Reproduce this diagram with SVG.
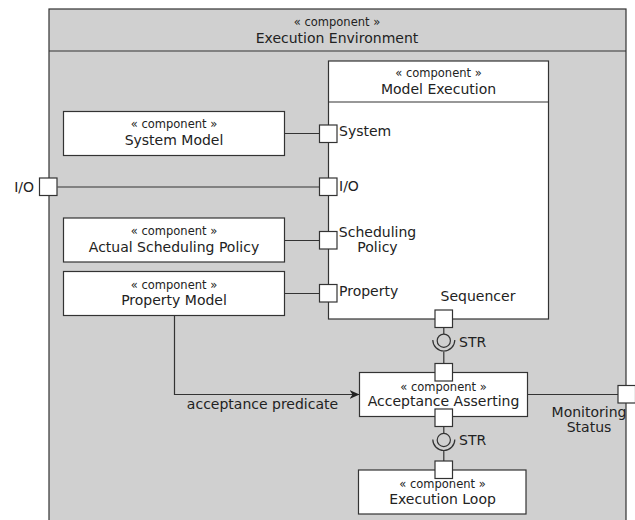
<svg xmlns="http://www.w3.org/2000/svg" width="635" height="520" viewBox="0 0 635 520">
  <style>
    .box { fill: #ffffff; stroke: #333333; stroke-width: 1.2; }
    .env { fill: #d0d0d0; stroke: #333333; stroke-width: 1.2; }
    .port { fill: #ffffff; stroke: #333333; stroke-width: 1.2; }
    .wire { fill: none; stroke: #333333; stroke-width: 1.2; }
    .st { font-family: "DejaVu Sans", sans-serif; font-size: 11.5px; fill: #222222; text-anchor: middle; }
    .nm { font-family: "DejaVu Sans", sans-serif; font-size: 14px; fill: #222222; text-anchor: middle; }
    .lbl { font-family: "DejaVu Sans", sans-serif; font-size: 14px; fill: #222222; }
  </style>
  <defs>
    <marker id="arrow" markerWidth="11" markerHeight="10" refX="10" refY="4.5" orient="auto" markerUnits="userSpaceOnUse">
      <path d="M0,0 L10,4.5 L0,9 L3,4.5 z" fill="#222222"/>
    </marker>
  </defs>

  <!-- enclosing component -->
  <g id="execution-environment">
    <rect class="env" x="49" y="9" width="577" height="530"/>
    <line class="wire" x1="49" y1="51" x2="626" y2="51"/>
    <text class="st" x="337" y="26">« component »</text>
    <text class="nm" x="337" y="43">Execution Environment</text>
  </g>

  <!-- connectors -->
  <g id="connectors">
    <line class="wire" x1="284.5" y1="133.5" x2="319.5" y2="133.5"/>
    <line class="wire" x1="57.5" y1="187" x2="319.5" y2="187"/>
    <line class="wire" x1="284.5" y1="240.5" x2="319.5" y2="240.5"/>
    <line class="wire" x1="284.5" y1="293.5" x2="319.5" y2="293.5"/>
    <polyline class="wire" points="174.5,315.5 174.5,394.5 359.5,394.5" marker-end="url(#arrow)"/>
    <line class="wire" x1="527.5" y1="394.5" x2="618" y2="394.5"/>
    <!-- STR interface between Sequencer and Acceptance Asserting -->
    <line class="wire" x1="443.8" y1="327.5" x2="443.8" y2="334"/>
    <circle class="wire" cx="443.8" cy="340.7" r="6.6"/>
    <path class="wire" d="M432.8,340 A11,11 0 0 0 454.8,340"/>
    <line class="wire" x1="443.8" y1="351.5" x2="443.8" y2="363.5"/>
    <!-- STR interface between Acceptance Asserting and Execution Loop -->
    <line class="wire" x1="443.8" y1="427" x2="443.8" y2="433.4"/>
    <circle class="wire" cx="443.8" cy="440" r="6.6"/>
    <path class="wire" d="M432.8,439.5 A11,11 0 0 0 454.8,439.5"/>
    <line class="wire" x1="443.8" y1="451" x2="443.8" y2="461"/>
    <text class="lbl" x="262.5" y="409" text-anchor="middle">acceptance predicate</text>
    <text class="lbl" x="459" y="347">STR</text>
    <text class="lbl" x="459" y="445">STR</text>
  </g>

  <!-- boundary port I/O -->
  <g id="port-io-env">
    <rect class="port" x="39.5" y="178" width="17.5" height="17.5"/>
    <text class="lbl" x="34" y="192" text-anchor="end">I/O</text>
  </g>

  <!-- boundary port Monitoring Status -->
  <g id="port-monitoring">
    <rect class="port" x="618" y="385.5" width="17.5" height="17.5"/>
    <text class="lbl" x="589" y="416.5" text-anchor="middle">Monitoring</text>
    <text class="lbl" x="589" y="431.5" text-anchor="middle">Status</text>
  </g>

  <g id="model-execution">
    <rect class="box" x="328.5" y="61" width="220" height="258"/>
    <line class="wire" x1="328.5" y1="102" x2="548.5" y2="102"/>
    <text class="st" x="438.5" y="77">« component »</text>
    <text class="nm" x="438.5" y="94">Model Execution</text>
    <rect class="port" x="319.5" y="125" width="17.5" height="17.5"/>
    <text class="lbl" x="339" y="136">System</text>
    <rect class="port" x="319.5" y="178" width="17.5" height="17.5"/>
    <text class="lbl" x="339" y="191">I/O</text>
    <rect class="port" x="319.5" y="231.5" width="17.5" height="17.5"/>
    <text class="lbl" x="377.5" y="236.5" text-anchor="middle">Scheduling</text>
    <text class="lbl" x="377.5" y="252" text-anchor="middle">Policy</text>
    <rect class="port" x="319.5" y="284.5" width="17.5" height="17.5"/>
    <text class="lbl" x="339" y="296">Property</text>
    <rect class="port" x="435" y="310" width="17.5" height="17.5"/>
    <text class="lbl" x="478" y="301" text-anchor="middle">Sequencer</text>
  </g>

  <g id="system-model">
    <rect class="box" x="63.5" y="111.5" width="221" height="44"/>
    <text class="st" x="174" y="128">« component »</text>
    <text class="nm" x="174" y="145">System Model</text>
  </g>

  <g id="actual-scheduling-policy">
    <rect class="box" x="63.5" y="218" width="221" height="44"/>
    <text class="st" x="174" y="235">« component »</text>
    <text class="nm" x="174" y="252">Actual Scheduling Policy</text>
  </g>

  <g id="property-model">
    <rect class="box" x="63.5" y="271.5" width="221" height="44"/>
    <text class="st" x="174" y="288.5">« component »</text>
    <text class="nm" x="174" y="305">Property Model</text>
  </g>

  <g id="acceptance-asserting">
    <rect class="box" x="359.5" y="372.5" width="168" height="44"/>
    <text class="st" x="443.5" y="390.5">« component »</text>
    <text class="nm" x="443.5" y="406">Acceptance Asserting</text>
    <rect class="port" x="435" y="363.5" width="17.5" height="17.5"/>
    <rect class="port" x="435" y="409" width="17.5" height="17.5"/>
  </g>

  <g id="execution-loop">
    <rect class="box" x="358.5" y="470" width="167.5" height="44"/>
    <text class="st" x="442.5" y="488">« component »</text>
    <text class="nm" x="442.5" y="504">Execution Loop</text>
    <rect class="port" x="435" y="461" width="17.5" height="17.5"/>
  </g>
</svg>
